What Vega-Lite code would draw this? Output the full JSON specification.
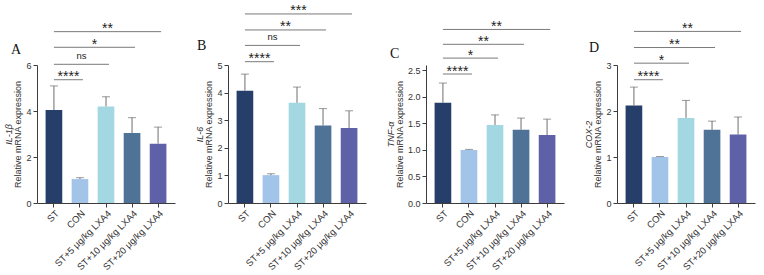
{
  "$schema": "https://vega.github.io/schema/vega-lite/v6.json",
  "padding": {"left": 4, "top": 4, "right": 4, "bottom": 0},
  "datasets": {
    "bars": [
      {"panel": "A", "group": "ST", "mean": 4.04, "upper": 5.09},
      {"panel": "A", "group": "CON", "mean": 1.04, "upper": 1.10},
      {"panel": "A", "group": "ST+5 μg/kg LXA4", "mean": 4.20, "upper": 4.62},
      {"panel": "A", "group": "ST+10 μg/kg LXA4", "mean": 3.04, "upper": 3.71},
      {"panel": "A", "group": "ST+20 μg/kg LXA4", "mean": 2.58, "upper": 3.30},
      {"panel": "B", "group": "ST", "mean": 4.07, "upper": 4.67},
      {"panel": "B", "group": "CON", "mean": 1.01, "upper": 1.06},
      {"panel": "B", "group": "ST+5 μg/kg LXA4", "mean": 3.63, "upper": 4.20},
      {"panel": "B", "group": "ST+10 μg/kg LXA4", "mean": 2.81, "upper": 3.42},
      {"panel": "B", "group": "ST+20 μg/kg LXA4", "mean": 2.72, "upper": 3.34},
      {"panel": "C", "group": "ST", "mean": 1.89, "upper": 2.26},
      {"panel": "C", "group": "CON", "mean": 1.00, "upper": 1.01},
      {"panel": "C", "group": "ST+5 μg/kg LXA4", "mean": 1.47, "upper": 1.66},
      {"panel": "C", "group": "ST+10 μg/kg LXA4", "mean": 1.38, "upper": 1.60},
      {"panel": "C", "group": "ST+20 μg/kg LXA4", "mean": 1.28, "upper": 1.58},
      {"panel": "D", "group": "ST", "mean": 2.12, "upper": 2.52},
      {"panel": "D", "group": "CON", "mean": 1.00, "upper": 1.01},
      {"panel": "D", "group": "ST+5 μg/kg LXA4", "mean": 1.85, "upper": 2.23},
      {"panel": "D", "group": "ST+10 μg/kg LXA4", "mean": 1.59, "upper": 1.78},
      {"panel": "D", "group": "ST+20 μg/kg LXA4", "mean": 1.49, "upper": 1.87}
    ],
    "sig": [
      {"panel": "A", "ref": "ST", "group": "CON", "level": 5.36, "label": "****"},
      {"panel": "A", "ref": "ST", "group": "ST+5 μg/kg LXA4", "level": 6.03, "label": "ns"},
      {"panel": "A", "ref": "ST", "group": "ST+10 μg/kg LXA4", "level": 6.77, "label": "*"},
      {"panel": "A", "ref": "ST", "group": "ST+20 μg/kg LXA4", "level": 7.45, "label": "**"},
      {"panel": "B", "ref": "ST", "group": "CON", "level": 5.12, "label": "****"},
      {"panel": "B", "ref": "ST", "group": "ST+5 μg/kg LXA4", "level": 5.71, "label": "ns"},
      {"panel": "B", "ref": "ST", "group": "ST+10 μg/kg LXA4", "level": 6.27, "label": "**"},
      {"panel": "B", "ref": "ST", "group": "ST+20 μg/kg LXA4", "level": 6.85, "label": "***"},
      {"panel": "C", "ref": "ST", "group": "CON", "level": 2.43, "label": "****"},
      {"panel": "C", "ref": "ST", "group": "ST+5 μg/kg LXA4", "level": 2.73, "label": "*"},
      {"panel": "C", "ref": "ST", "group": "ST+10 μg/kg LXA4", "level": 2.99, "label": "**"},
      {"panel": "C", "ref": "ST", "group": "ST+20 μg/kg LXA4", "level": 3.27, "label": "**"},
      {"panel": "D", "ref": "ST", "group": "CON", "level": 2.68, "label": "****"},
      {"panel": "D", "ref": "ST", "group": "ST+5 μg/kg LXA4", "level": 3.04, "label": "*"},
      {"panel": "D", "ref": "ST", "group": "ST+10 μg/kg LXA4", "level": 3.38, "label": "**"},
      {"panel": "D", "ref": "ST", "group": "ST+20 μg/kg LXA4", "level": 3.73, "label": "**"}
    ]
  },
  "hconcat": [
    {
      "width": 138, "height": 138,
      "title": {"text": "A", "offset": -35, "dx": 7},
      "layer": [
        {
          "layer": [
            {"data": {"name": "bars"}, "transform": [{"filter": "datum.panel === 'A'"}],
             "mark": {"type": "bar"},
             "encoding": {
               "x": {"field": "group", "type": "nominal", "title": null, "scale": {"domain": ["ST", "CON", "ST+5 μg/kg LXA4", "ST+10 μg/kg LXA4", "ST+20 μg/kg LXA4"], "paddingInner": 0.36, "paddingOuter": 0.33}},
               "y": {"field": "mean", "type": "quantitative", "scale": {"domain": [0, 6]}, "axis": {"title": "Relative mRNA expression", "values": [0, 2, 4, 6]}},
               "color": {"field": "group", "type": "nominal", "legend": null, "scale": {"domain": ["ST", "CON", "ST+5 μg/kg LXA4", "ST+10 μg/kg LXA4", "ST+20 μg/kg LXA4"], "range": ["#263f6a", "#a2c4e8", "#a3d8e3", "#4e7397", "#5e61a8"]}}
             }},
            {"data": {"name": "bars"}, "transform": [{"filter": "datum.panel === 'A'"}],
             "mark": {"type": "rule", "color": "#6e6e6e"},
             "encoding": {
               "x": {"field": "group", "type": "nominal", "title": null},
               "y": {"field": "mean", "type": "quantitative", "axis": {"orient": "left", "title": "IL-1β", "titleFontStyle": "italic", "labels": false, "ticks": false, "domain": false, "titlePadding": 24}},
               "y2": {"field": "upper"}
             }},
            {"data": {"name": "bars"}, "transform": [{"filter": "datum.panel === 'A'"}],
             "mark": {"type": "tick", "color": "#6e6e6e", "thickness": 1, "size": 8},
             "encoding": {
               "x": {"field": "group", "type": "nominal", "title": null},
               "y": {"field": "upper", "type": "quantitative", "axis": null}
             }},
            {"data": {"name": "sig"}, "transform": [{"filter": "datum.panel === 'A'"}],
             "mark": {"type": "rule", "color": "#7a7a7a"},
             "encoding": {
               "x": {"field": "ref", "type": "nominal", "title": null},
               "x2": {"field": "group", "bandPosition": 0.68},
               "y": {"field": "level", "type": "quantitative", "axis": null}
             }}
          ],
          "resolve": {"axis": {"y": "independent"}}
        },
        {"data": {"name": "sig"}, "transform": [{"filter": "datum.panel === 'A' && datum.label !== 'ns'"}],
         "mark": {"type": "text", "fontSize": 14, "baseline": "alphabetic", "dy": 1.5, "color": "#222"},
         "encoding": {
           "x": {"field": "group", "type": "nominal", "axis": null, "scale": {"type": "point", "domain": ["ST", "CON", "ST+5 μg/kg LXA4", "ST+10 μg/kg LXA4", "ST+20 μg/kg LXA4"], "range": [18.4, 70.5], "padding": 0}},
           "y": {"field": "level", "type": "quantitative", "axis": null},
           "text": {"field": "label"}
         }},
        {"data": {"name": "sig"}, "transform": [{"filter": "datum.panel === 'A' && datum.label === 'ns'"}],
         "mark": {"type": "text", "fontSize": 9.5, "baseline": "alphabetic", "dy": -5, "color": "#222"},
         "encoding": {
           "x": {"field": "group", "type": "nominal", "axis": null, "scale": {"type": "point", "domain": ["ST", "CON", "ST+5 μg/kg LXA4", "ST+10 μg/kg LXA4", "ST+20 μg/kg LXA4"], "range": [18.4, 70.5], "padding": 0}},
           "y": {"field": "level", "type": "quantitative", "axis": null},
           "text": {"field": "label"}
         }}
      ],
      "resolve": {"scale": {"x": "independent"}, "axis": {"y": "independent"}}
    },
    {
      "width": 138, "height": 138,
      "title": {"text": "B", "offset": -49, "dx": 2},
      "layer": [
        {
          "layer": [
            {"data": {"name": "bars"}, "transform": [{"filter": "datum.panel === 'B'"}],
             "mark": {"type": "bar"},
             "encoding": {
               "x": {"field": "group", "type": "nominal", "title": null, "scale": {"domain": ["ST", "CON", "ST+5 μg/kg LXA4", "ST+10 μg/kg LXA4", "ST+20 μg/kg LXA4"], "paddingInner": 0.36, "paddingOuter": 0.33}},
               "y": {"field": "mean", "type": "quantitative", "scale": {"domain": [0, 5]}, "axis": {"title": "Relative mRNA expression", "values": [0, 1, 2, 3, 4, 5]}},
               "color": {"field": "group", "type": "nominal", "legend": null, "scale": {"domain": ["ST", "CON", "ST+5 μg/kg LXA4", "ST+10 μg/kg LXA4", "ST+20 μg/kg LXA4"], "range": ["#263f6a", "#a2c4e8", "#a3d8e3", "#4e7397", "#5e61a8"]}}
             }},
            {"data": {"name": "bars"}, "transform": [{"filter": "datum.panel === 'B'"}],
             "mark": {"type": "rule", "color": "#6e6e6e"},
             "encoding": {
               "x": {"field": "group", "type": "nominal", "title": null},
               "y": {"field": "mean", "type": "quantitative", "axis": {"orient": "left", "title": "IL-6", "titleFontStyle": "italic", "labels": false, "ticks": false, "domain": false, "titlePadding": 24}},
               "y2": {"field": "upper"}
             }},
            {"data": {"name": "bars"}, "transform": [{"filter": "datum.panel === 'B'"}],
             "mark": {"type": "tick", "color": "#6e6e6e", "thickness": 1, "size": 8},
             "encoding": {
               "x": {"field": "group", "type": "nominal", "title": null},
               "y": {"field": "upper", "type": "quantitative", "axis": null}
             }},
            {"data": {"name": "sig"}, "transform": [{"filter": "datum.panel === 'B'"}],
             "mark": {"type": "rule", "color": "#7a7a7a"},
             "encoding": {
               "x": {"field": "ref", "type": "nominal", "title": null},
               "x2": {"field": "group", "bandPosition": 0.68},
               "y": {"field": "level", "type": "quantitative", "axis": null}
             }}
          ],
          "resolve": {"axis": {"y": "independent"}}
        },
        {"data": {"name": "sig"}, "transform": [{"filter": "datum.panel === 'B' && datum.label !== 'ns'"}],
         "mark": {"type": "text", "fontSize": 14, "baseline": "alphabetic", "dy": 1.5, "color": "#222"},
         "encoding": {
           "x": {"field": "group", "type": "nominal", "axis": null, "scale": {"type": "point", "domain": ["ST", "CON", "ST+5 μg/kg LXA4", "ST+10 μg/kg LXA4", "ST+20 μg/kg LXA4"], "range": [18.4, 70.5], "padding": 0}},
           "y": {"field": "level", "type": "quantitative", "axis": null},
           "text": {"field": "label"}
         }},
        {"data": {"name": "sig"}, "transform": [{"filter": "datum.panel === 'B' && datum.label === 'ns'"}],
         "mark": {"type": "text", "fontSize": 9.5, "baseline": "alphabetic", "dy": -5, "color": "#222"},
         "encoding": {
           "x": {"field": "group", "type": "nominal", "axis": null, "scale": {"type": "point", "domain": ["ST", "CON", "ST+5 μg/kg LXA4", "ST+10 μg/kg LXA4", "ST+20 μg/kg LXA4"], "range": [18.4, 70.5], "padding": 0}},
           "y": {"field": "level", "type": "quantitative", "axis": null},
           "text": {"field": "label"}
         }}
      ],
      "resolve": {"scale": {"x": "independent"}, "axis": {"y": "independent"}}
    },
    {
      "width": 138, "height": 138,
      "title": {"text": "C", "offset": -41, "dx": 4},
      "layer": [
        {
          "layer": [
            {"data": {"name": "bars"}, "transform": [{"filter": "datum.panel === 'C'"}],
             "mark": {"type": "bar"},
             "encoding": {
               "x": {"field": "group", "type": "nominal", "title": null, "scale": {"domain": ["ST", "CON", "ST+5 μg/kg LXA4", "ST+10 μg/kg LXA4", "ST+20 μg/kg LXA4"], "paddingInner": 0.36, "paddingOuter": 0.33}},
               "y": {"field": "mean", "type": "quantitative", "scale": {"domain": [0, 2.5]}, "axis": {"title": "Relative mRNA expression", "values": [0, 0.5, 1, 1.5, 2, 2.5], "format": ".1f"}},
               "color": {"field": "group", "type": "nominal", "legend": null, "scale": {"domain": ["ST", "CON", "ST+5 μg/kg LXA4", "ST+10 μg/kg LXA4", "ST+20 μg/kg LXA4"], "range": ["#263f6a", "#a2c4e8", "#a3d8e3", "#4e7397", "#5e61a8"]}}
             }},
            {"data": {"name": "bars"}, "transform": [{"filter": "datum.panel === 'C'"}],
             "mark": {"type": "rule", "color": "#6e6e6e"},
             "encoding": {
               "x": {"field": "group", "type": "nominal", "title": null},
               "y": {"field": "mean", "type": "quantitative", "axis": {"orient": "left", "title": "TNF-α", "titleFontStyle": "italic", "labels": false, "ticks": false, "domain": false, "titlePadding": 31}},
               "y2": {"field": "upper"}
             }},
            {"data": {"name": "bars"}, "transform": [{"filter": "datum.panel === 'C'"}],
             "mark": {"type": "tick", "color": "#6e6e6e", "thickness": 1, "size": 8},
             "encoding": {
               "x": {"field": "group", "type": "nominal", "title": null},
               "y": {"field": "upper", "type": "quantitative", "axis": null}
             }},
            {"data": {"name": "sig"}, "transform": [{"filter": "datum.panel === 'C'"}],
             "mark": {"type": "rule", "color": "#7a7a7a"},
             "encoding": {
               "x": {"field": "ref", "type": "nominal", "title": null},
               "x2": {"field": "group", "bandPosition": 0.68},
               "y": {"field": "level", "type": "quantitative", "axis": null}
             }}
          ],
          "resolve": {"axis": {"y": "independent"}}
        },
        {"data": {"name": "sig"}, "transform": [{"filter": "datum.panel === 'C'"}],
         "mark": {"type": "text", "fontSize": 14, "baseline": "alphabetic", "dy": 1.5, "color": "#222"},
         "encoding": {
           "x": {"field": "group", "type": "nominal", "axis": null, "scale": {"type": "point", "domain": ["ST", "CON", "ST+5 μg/kg LXA4", "ST+10 μg/kg LXA4", "ST+20 μg/kg LXA4"], "range": [18.4, 70.5], "padding": 0}},
           "y": {"field": "level", "type": "quantitative", "axis": null},
           "text": {"field": "label"}
         }}
      ],
      "resolve": {"scale": {"x": "independent"}, "axis": {"y": "independent"}}
    },
    {
      "width": 138, "height": 138,
      "title": {"text": "D", "offset": -33, "dx": 5},
      "layer": [
        {
          "layer": [
            {"data": {"name": "bars"}, "transform": [{"filter": "datum.panel === 'D'"}],
             "mark": {"type": "bar"},
             "encoding": {
               "x": {"field": "group", "type": "nominal", "title": null, "scale": {"domain": ["ST", "CON", "ST+5 μg/kg LXA4", "ST+10 μg/kg LXA4", "ST+20 μg/kg LXA4"], "paddingInner": 0.36, "paddingOuter": 0.33}},
               "y": {"field": "mean", "type": "quantitative", "scale": {"domain": [0, 3]}, "axis": {"title": "Relative mRNA expression", "values": [0, 1, 2, 3]}},
               "color": {"field": "group", "type": "nominal", "legend": null, "scale": {"domain": ["ST", "CON", "ST+5 μg/kg LXA4", "ST+10 μg/kg LXA4", "ST+20 μg/kg LXA4"], "range": ["#263f6a", "#a2c4e8", "#a3d8e3", "#4e7397", "#5e61a8"]}}
             }},
            {"data": {"name": "bars"}, "transform": [{"filter": "datum.panel === 'D'"}],
             "mark": {"type": "rule", "color": "#6e6e6e"},
             "encoding": {
               "x": {"field": "group", "type": "nominal", "title": null},
               "y": {"field": "mean", "type": "quantitative", "axis": {"orient": "left", "title": "COX-2", "titleFontStyle": "italic", "labels": false, "ticks": false, "domain": false, "titlePadding": 24}},
               "y2": {"field": "upper"}
             }},
            {"data": {"name": "bars"}, "transform": [{"filter": "datum.panel === 'D'"}],
             "mark": {"type": "tick", "color": "#6e6e6e", "thickness": 1, "size": 8},
             "encoding": {
               "x": {"field": "group", "type": "nominal", "title": null},
               "y": {"field": "upper", "type": "quantitative", "axis": null}
             }},
            {"data": {"name": "sig"}, "transform": [{"filter": "datum.panel === 'D'"}],
             "mark": {"type": "rule", "color": "#7a7a7a"},
             "encoding": {
               "x": {"field": "ref", "type": "nominal", "title": null},
               "x2": {"field": "group", "bandPosition": 0.68},
               "y": {"field": "level", "type": "quantitative", "axis": null}
             }}
          ],
          "resolve": {"axis": {"y": "independent"}}
        },
        {"data": {"name": "sig"}, "transform": [{"filter": "datum.panel === 'D'"}],
         "mark": {"type": "text", "fontSize": 14, "baseline": "alphabetic", "dy": 1.5, "color": "#222"},
         "encoding": {
           "x": {"field": "group", "type": "nominal", "axis": null, "scale": {"type": "point", "domain": ["ST", "CON", "ST+5 μg/kg LXA4", "ST+10 μg/kg LXA4", "ST+20 μg/kg LXA4"], "range": [18.4, 70.5], "padding": 0}},
           "y": {"field": "level", "type": "quantitative", "axis": null},
           "text": {"field": "label"}
         }}
      ],
      "resolve": {"scale": {"x": "independent"}, "axis": {"y": "independent"}}
    }
  ],
  "config": {
    "font": "Liberation Sans",
    "view": {"stroke": null},
    "concat": {"spacing": 20},
    "axis": {
      "grid": false,
      "domainColor": "#3c3c3c",
      "tickColor": "#3c3c3c",
      "tickSize": 4,
      "labelColor": "#333333",
      "labelFontSize": 9,
      "labelPadding": 2,
      "titleFontSize": 9,
      "titleFontWeight": "normal",
      "titleColor": "#333333"
    },
    "axisX": {"labelAngle": -45, "labelAlign": "right", "labelBaseline": "top", "labelPadding": 1, "labelFontSize": 9.5},
    "axisY": {"titlePadding": 3},
    "title": {"font": "Liberation Serif", "fontSize": 14, "fontWeight": "normal", "anchor": "start", "frame": "bounds", "color": "#111111"}
  }
}
